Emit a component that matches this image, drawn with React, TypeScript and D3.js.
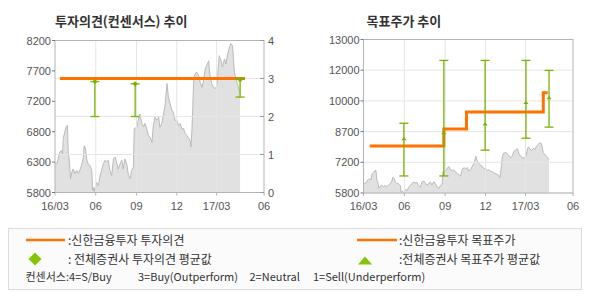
import React from "react";
import * as d3 from "d3";

// ---------- data ----------
const startDate = "2016-03-01";
// day offsets from startDate for each price observation
const priceDayOffsets = [
  0, 4, 7, 11, 15, 17, 19, 23, 25, 28,
  30, 32, 35, 38, 41, 45, 49, 53, 57, 60,
  64, 66, 69, 72, 75, 79, 83, 85, 88, 90,
  94, 98, 102, 106, 109, 113, 117, 120, 124, 128,
  132, 136, 139, 143, 147, 151, 154, 158, 162, 166,
  170, 173, 177, 179, 185, 188, 192, 196, 200, 203,
  207, 211, 215, 219, 222, 226, 230, 234, 237, 241,
  245, 249, 253, 256, 260, 264, 267, 271, 275, 279,
  283, 286, 290, 294, 298, 301, 305, 307, 309, 311,
  313, 316, 320, 324, 328, 332, 335, 339, 343, 347,
  350, 354, 358, 362, 366, 369, 371, 375, 378, 383,
  386, 390, 393, 397, 401, 403, 405, 408, 412, 416,
  418,
];
const prices = [
  6270, 6250, 6330, 6440, 6460, 6410, 6670, 6780, 6830, 6860,
  6410, 6330, 6020, 6120, 6170, 6100, 6150, 6100, 6170, 6230,
  6360, 6540, 6490, 6310, 6250, 6230, 6150, 5830, 5880, 5800,
  5960, 5910, 6070, 6170, 6250, 6310, 6280, 6310, 6150, 6070,
  6330, 6360, 6280, 6170, 6250, 6310, 6170, 6330, 6250, 6070,
  6020, 6150, 6200, 6810, 6830, 6940, 7040, 6890, 6840, 6890,
  6810, 6700, 6670, 6590, 6860, 6990, 6940, 6990, 6830, 6890,
  7040, 7200, 7520, 7310, 7200, 7100, 7070, 6940, 6940, 6860,
  6890, 6810, 6810, 6730, 6700, 6670, 6620, 6520, 6750, 7100,
  7540, 7670, 7700, 7650, 7540, 7460, 7540, 7750, 7810, 7880,
  7650, 7520, 7460, 7440, 7490, 7810, 7960, 7880, 7780, 7910,
  7830, 7990, 8070, 8150, 8120, 7910, 7700, 7620, 7520, 7410,
  7380,
];

const xTickDates = ["2016-03-01", "2016-06-01", "2016-09-01", "2016-12-01", "2017-03-01", "2017-06-16"];
const xTickLabels = ["16/03", "06", "09", "12", "17/03", "06"];

// left chart (investment opinion)
const priceTicksL = [5800, 6280, 6760, 7240, 7720, 8200];
const priceTickLabelsL = ["5800", "6300", "6800", "7200", "7700", "8200"];
const opinionTicks = [0, 1, 2, 3, 4];
const opinionTickLabels = ["0", "1", "2", "3", "4"];
const opinionDates = ["2016-03-12", "2017-05-04"];
const opinionValues = [3, 3];
const opAvgDates = ["2016-05-30", "2016-08-29", "2017-04-23"];
const opAvgMean = [2.92, 2.86, 2.97];
const opAvgMax = [2.92, 2.86, 3.0];
const opAvgMin = [2.0, 2.0, 2.51];

// right chart (target price)
const priceTicksR = [5800, 7240, 8680, 10120, 11560, 13000];
const priceTickLabelsR = ["5800", "7200", "8700", "10000", "12000", "13000"];
const targetDates = ["2016-03-15", "2016-08-29", "2016-10-19", "2017-04-10", "2017-04-20"];
const targetValues = [8000, 8800, 9600, 10500, 10500];
const tpAvgDates = ["2016-05-31", "2016-08-29", "2016-11-30", "2017-03-02", "2017-04-23"];
const tpAvgMean = [8340, 8630, 9040, 10040, 10270];
const tpAvgMax = [9070, 12020, 12020, 12020, 11550];
const tpAvgMin = [6600, 6600, 7810, 8370, 8890];

// legend texts
const legendOpinion = ":신한금융투자 투자의견";
const legendOpinionAvg = ": 전체증권사 투자의견 평균값";
const legendTarget = ":신한금융투자 목표주가";
const legendTargetAvg = ":전체증권사 목표주가 평균값";
const consensusParts = ["컨센서스:4=S/Buy", "3=Buy(Outperform)", "2=Neutral", "1=Sell(Underperform)"];
const titleLeft = "투자의견(컨센서스) 추이";
const titleRight = "목표주가 추이";

// ---------- styles ----------
const ORANGE = "#ff7200";
const GREEN = "#78b400";
const GRID = "#e6e6e6";
const AXIS = "#b4b4b4";
const AXIS_FONT = "'Liberation Sans', Arial, sans-serif";
const KR_FONT = "'Noto Sans CJK KR', 'Noto Sans', sans-serif";

const parse = d3.utcParse("%Y-%m-%d");
const start = parse(startDate)!;
const dayMs = 86400000;
const priceDates = priceDayOffsets.map((d) => new Date(start.getTime() + d * dayMs));
const xDomain: [Date, Date] = [parse(xTickDates[0])!, parse(xTickDates[xTickDates.length - 1])!];

type Box = { x0: number; x1: number; y0: number; y1: number };
const LB: Box = { x0: 55, x1: 264, y0: 40.5, y1: 192.5 };
const RB: Box = { x0: 363.5, x1: 573, y0: 39.5, y1: 193 };

function Frame({ b, x }: { b: Box; x: d3.ScaleTime<number, number> }) {
  return (
    <g>
      {xTickDates.slice(1, -1).map((d, i) => (
        <line key={i} x1={x(parse(d)!)} x2={x(parse(d)!)} y1={b.y0} y2={b.y1} stroke={GRID} strokeWidth={1} />
      ))}
      {xTickDates.map((d, i) => (
        <line key={"t" + i} x1={x(parse(d)!)} x2={x(parse(d)!)} y1={b.y1} y2={b.y1 + 3} stroke={AXIS} />
      ))}
      {xTickDates.map((d, i) => (
        <text key={"l" + i} x={x(parse(d)!)} y={b.y1 + 17} textAnchor="middle" fontFamily={AXIS_FONT} fontSize={11} fill="#555">
          {xTickLabels[i]}
        </text>
      ))}
    </g>
  );
}

function PriceArea({ x, y, b }: { x: d3.ScaleTime<number, number>; y: d3.ScaleLinear<number, number>; b: Box }) {
  const area = d3
    .area<number>()
    .x((_, i) => x(priceDates[i]))
    .y0(b.y1)
    .y1((v) => y(v));
  const line = d3
    .line<number>()
    .x((_, i) => x(priceDates[i]))
    .y((v) => y(v));
  return (
    <g>
      <path d={area(prices) || ""} fill="#e1e1e1" />
      <path d={line(prices) || ""} fill="none" stroke="#bababa" strokeWidth={1} />
    </g>
  );
}

function LeftChart() {
  const x = d3.scaleUtc().domain(xDomain).range([LB.x0, LB.x1]);
  const yP = d3.scaleLinear().domain([5800, 8200]).range([LB.y1, LB.y0]);
  const yO = d3.scaleLinear().domain([0, 4]).range([LB.y1, LB.y0]);
  const opLine = d3
    .line<number>()
    .x((_, i) => x(parse(opinionDates[i])!))
    .y((v) => yO(v));
  return (
    <g>
      <text x={55} y={26} fontFamily={KR_FONT} fontWeight="bold" fontSize={13} fill="#333">
        {titleLeft}
      </text>
      <PriceArea x={x} y={yP} b={LB} />
      {opinionTicks.map((t, i) => (
        <line key={i} x1={LB.x0} x2={LB.x1} y1={yO(t)} y2={yO(t)} stroke={GRID} />
      ))}
      <Frame b={LB} x={x} />
      <rect x={LB.x0} y={LB.y0} width={LB.x1 - LB.x0} height={LB.y1 - LB.y0} fill="none" stroke={AXIS} />
      {priceTicksL.map((t, i) => (
        <g key={i}>
          <line x1={LB.x0 - 3} x2={LB.x0} y1={yP(t)} y2={yP(t)} stroke="#777" />
          <text x={LB.x0 - 4} y={yP(t) + 4} textAnchor="end" fontFamily={AXIS_FONT} fontSize={11} fill="#555">
            {priceTickLabelsL[i]}
          </text>
        </g>
      ))}
      {opinionTicks.map((t, i) => (
        <g key={i}>
          <line x1={LB.x1 - 4} x2={LB.x1} y1={yO(t)} y2={yO(t)} stroke="#999" />
          <text x={LB.x1 + 4} y={yO(t) + 4} fontFamily={AXIS_FONT} fontSize={11} fill="#555">
            {opinionTickLabels[i]}
          </text>
        </g>
      ))}
      <path d={opLine(opinionValues) || ""} fill="none" stroke={ORANGE} strokeWidth={3} />
      {opAvgDates.map((d, i) => {
        const cx = x(parse(d)!);
        const cy = yO(opAvgMean[i]);
        return (
          <g key={i} stroke={GREEN} strokeWidth={1.3}>
            <line x1={cx} x2={cx} y1={yO(opAvgMax[i])} y2={yO(opAvgMin[i])} />
            <line x1={cx - 4.5} x2={cx + 4.5} y1={yO(opAvgMin[i])} y2={yO(opAvgMin[i])} />
            <line x1={cx - 4.5} x2={cx + 4.5} y1={yO(opAvgMax[i])} y2={yO(opAvgMax[i])} />
            <path d={`M${cx},${cy - 2.6}L${cx + 2.6},${cy}L${cx},${cy + 2.6}L${cx - 2.6},${cy}Z`} fill={GREEN} stroke="none" />
          </g>
        );
      })}
    </g>
  );
}

function RightChart() {
  const x = d3.scaleUtc().domain(xDomain).range([RB.x0, RB.x1]);
  const y = d3.scaleLinear().domain([5800, 13000]).range([RB.y1, RB.y0]);
  const tpLine = d3
    .line<number>()
    .x((_, i) => x(parse(targetDates[i])!))
    .y((v) => y(v))
    .curve(d3.curveStepAfter);
  return (
    <g>
      <text x={366.5} y={26} fontFamily={KR_FONT} fontWeight="bold" fontSize={13} fill="#333">
        {titleRight}
      </text>
      <PriceArea x={x} y={y} b={RB} />
      {priceTicksR.map((t, i) => (
        <line key={i} x1={RB.x0} x2={RB.x1} y1={y(t)} y2={y(t)} stroke={GRID} />
      ))}
      <Frame b={RB} x={x} />
      <rect x={RB.x0} y={RB.y0} width={RB.x1 - RB.x0} height={RB.y1 - RB.y0} fill="none" stroke={AXIS} />
      {priceTicksR.map((t, i) => (
        <g key={i}>
          <line x1={RB.x0 - 3} x2={RB.x0} y1={y(t)} y2={y(t)} stroke="#777" />
          <text x={RB.x0 - 4} y={y(t) + 4} textAnchor="end" fontFamily={AXIS_FONT} fontSize={11} fill="#555">
            {priceTickLabelsR[i]}
          </text>
        </g>
      ))}
      <path d={tpLine(targetValues) || ""} fill="none" stroke={ORANGE} strokeWidth={3} />
      {tpAvgDates.map((d, i) => {
        const cx = x(parse(d)!);
        const cy = y(tpAvgMean[i]);
        return (
          <g key={i} stroke={GREEN} strokeWidth={1.3}>
            <line x1={cx} x2={cx} y1={y(tpAvgMax[i])} y2={y(tpAvgMin[i])} />
            <line x1={cx - 4.5} x2={cx + 4.5} y1={y(tpAvgMin[i])} y2={y(tpAvgMin[i])} />
            <line x1={cx - 4.5} x2={cx + 4.5} y1={y(tpAvgMax[i])} y2={y(tpAvgMax[i])} />
            <path d={`M${cx - 2.6},${cy + 1.5}L${cx},${cy - 1.8}L${cx + 2.6},${cy + 1.5}Z`} fill={GREEN} stroke="none" />
          </g>
        );
      })}
    </g>
  );
}

function Legend() {
  const consX = [25.5, 138, 249.5, 313];
  return (
    <g fontFamily={KR_FONT} fill="#333">
      <rect x={8.5} y={228.5} width={573} height={61} fill="#fbfbfb" stroke="#dcdcdc" />
      <line x1={26} x2={65} y1={240} y2={240} stroke={ORANGE} strokeWidth={2.5} />
      <text x={68} y={245} fontSize={12}>{legendOpinion}</text>
      <path d="M35,252.5L41.5,259L35,265.5L28.5,259Z" fill="#84c400" />
      <text x={68} y={264} fontSize={12}>{legendOpinionAvg}</text>
      <line x1={357} x2={397} y1={240} y2={240} stroke={ORANGE} strokeWidth={2.5} />
      <text x={399} y={245} fontSize={12}>{legendTarget}</text>
      <path d="M358,264.5L365,256.5L372,264.5Z" fill="#84c400" />
      <text x={399} y={264} fontSize={12}>{legendTargetAvg}</text>
      {consensusParts.map((s, i) => (
        <text key={i} x={consX[i]} y={281} fontSize={11}>
          {s}
        </text>
      ))}
    </g>
  );
}

export default function App() {
  return (
    <svg width={590} height={300} style={{ position: "absolute", left: 0, top: 0, background: "#fff" }}>
      <rect width={590} height={300} fill="#fff" />
      <LeftChart />
      <RightChart />
      <Legend />
    </svg>
  );
}
